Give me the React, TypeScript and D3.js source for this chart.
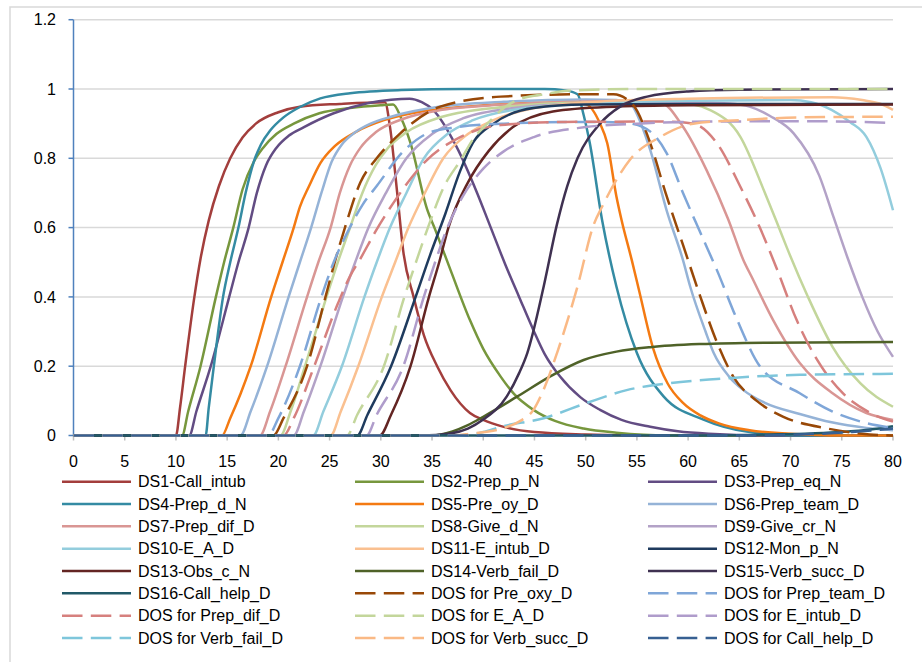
import React from 'react';
import * as d3 from 'd3';

type P = [number, number];

const ds1: P[] = [[0,0],[10,0],[10.4,0.08],[10.9,0.2],[11.8,0.4],[12.4,0.51],[13.2,0.62],[14.2,0.72],[15.3,0.8],[16.5,0.86],[17.8,0.9],[20,0.933],[22.1,0.949],[26,0.957],[30.4,0.962],[30.9,0.89],[31.6,0.7],[32.2,0.53],[33.2,0.4],[34.2,0.29],[35.5,0.2],[36.8,0.131],[38.7,0.065],[40,0.045],[42,0.025],[45,0.01],[50,0.003],[56,0],[80,0]];
const ds2: P[] = [[0,0],[10.6,0],[11.2,0.07],[12.4,0.2],[13.9,0.4],[14.7,0.5],[15.6,0.6],[16.5,0.71],[17.6,0.79],[18.5,0.83],[19.8,0.87],[21.5,0.9],[24,0.93],[27,0.945],[30,0.953],[31.2,0.955],[32,0.915],[32.9,0.844],[34.5,0.655],[35.3,0.595],[36.8,0.478],[38.7,0.333],[40,0.25],[41.7,0.17],[43,0.12],[44.9,0.074],[47,0.042],[49.8,0.02],[53,0.008],[58,0],[80,0]];
const ds3: P[] = [[0,0],[11.3,0],[12,0.07],[13.4,0.2],[15.2,0.4],[16.1,0.5],[17.1,0.6],[17.9,0.7],[18.8,0.78],[19.8,0.83],[21,0.865],[22.5,0.89],[25.4,0.93],[28.7,0.959],[31,0.969],[32.8,0.972],[34,0.962],[35.1,0.94],[37.4,0.833],[39.4,0.7],[40.6,0.61],[42.2,0.49],[43.5,0.4],[44.9,0.304],[46,0.235],[47.5,0.17],[49.5,0.11],[51.4,0.074],[53.5,0.045],[56.3,0.025],[59,0.012],[62,0.005],[68,0],[80,0]];
const ds4: P[] = [[0,0],[12.9,0],[13.2,0.08],[13.7,0.2],[14.6,0.4],[15.3,0.5],[16.1,0.6],[16.8,0.7],[17.6,0.79],[18.3,0.84],[19.2,0.88],[20.5,0.918],[22.1,0.948],[24.1,0.973],[27,0.988],[32,0.997],[38,1.0],[46,1.0],[48,0.996],[49.2,0.985],[49.8,0.925],[50.4,0.844],[51.6,0.622],[53,0.43],[55,0.238],[57.6,0.113],[61.5,0.046],[66,0.01],[71,0],[80,0]];
const ds5: P[] = [[0,0],[14.5,0],[15.3,0.05],[16.3,0.12],[17.3,0.2],[19.3,0.4],[20.4,0.5],[21.5,0.6],[22.1,0.66],[23,0.72],[24.1,0.786],[25.5,0.835],[27.5,0.875],[30.3,0.91],[33,0.93],[36,0.943],[40,0.953],[45,0.96],[48.5,0.962],[50.1,0.955],[51.4,0.9],[52.1,0.844],[53,0.69],[53.5,0.622],[54.5,0.506],[55.2,0.42],[56.6,0.25],[58,0.15],[59.5,0.094],[61.2,0.058],[63,0.035],[66,0.015],[70,0.005],[75,0],[80,0]];
const ds6: P[] = [[0,0],[16.3,0],[17.3,0.07],[18.9,0.2],[21,0.4],[22.1,0.5],[23.2,0.6],[24.2,0.7],[25.2,0.79],[26.2,0.84],[27.5,0.875],[29,0.9],[31,0.92],[36,0.95],[42,0.963],[50,0.97],[53,0.968],[54.3,0.959],[55.4,0.9],[56.3,0.824],[57.9,0.65],[59.5,0.506],[60.2,0.43],[61.7,0.3],[62.5,0.238],[64,0.17],[65.4,0.131],[67.5,0.094],[70.9,0.062],[74,0.038],[77.4,0.022],[80,0.015]];
const ds7: P[] = [[0,0],[18.2,0],[19.2,0.07],[20.7,0.2],[22.8,0.4],[23.9,0.5],[25.1,0.6],[26,0.7],[27,0.78],[28,0.83],[29.5,0.875],[32,0.912],[36,0.94],[42,0.955],[50,0.964],[55,0.967],[57.3,0.962],[59.5,0.891],[61.8,0.766],[63.9,0.625],[65.4,0.506],[66.2,0.458],[68.3,0.333],[70.9,0.209],[74.1,0.122],[77.4,0.065],[80,0.045]];
const ds8: P[] = [[0,0],[20.2,0],[21.2,0.07],[22.6,0.2],[24.7,0.4],[25.8,0.5],[27,0.6],[28.2,0.7],[29.5,0.78],[30.7,0.83],[32.5,0.875],[36,0.92],[42,0.948],[50,0.96],[58,0.961],[60.5,0.955],[62.1,0.94],[65.1,0.862],[67.5,0.7],[68.6,0.62],[69.6,0.545],[71.7,0.4],[74.1,0.256],[76.8,0.151],[80,0.083]];
const ds9: P[] = [[0,0],[21.5,0],[22.5,0.07],[24.1,0.2],[26.3,0.4],[27.5,0.5],[28.8,0.6],[30.5,0.7],[32.5,0.8],[35,0.87],[38,0.915],[43,0.945],[50,0.958],[60,0.962],[64,0.958],[66,0.949],[68,0.922],[70.3,0.872],[72.8,0.75],[74.2,0.63],[75.6,0.51],[77,0.4],[78.5,0.3],[80,0.227]];
const ds10: P[] = [[0,0],[23.4,0],[24.4,0.07],[26.2,0.2],[28.4,0.4],[29.6,0.5],[30.9,0.6],[32.5,0.7],[34.2,0.8],[36.5,0.87],[39,0.91],[43,0.94],[50,0.958],[60,0.966],[70,0.968],[72,0.962],[74,0.94],[75.8,0.905],[77.4,0.862],[78.8,0.77],[80,0.65]];
const ds11: P[] = [[0,0],[25.1,0],[26.1,0.07],[27.8,0.2],[30.1,0.4],[31.4,0.5],[32.7,0.6],[34.3,0.7],[36.1,0.8],[38.5,0.87],[41,0.91],[45,0.945],[52,0.965],[60,0.972],[74,0.976],[77,0.968],[78.7,0.958],[80,0.94]];
const ds12: P[] = [[0,0],[27.7,0],[28.7,0.06],[31,0.2],[33.4,0.4],[34.8,0.52],[36.3,0.64],[37.7,0.76],[39,0.845],[41,0.9],[44.9,0.945],[50,0.955],[60,0.957],[80,0.957]];
const ds13: P[] = [[0,0],[29.9,0],[31,0.06],[32.9,0.2],[34.7,0.4],[35.7,0.5],[36.6,0.6],[38.5,0.73],[40.5,0.82],[42.9,0.89],[46.8,0.935],[52,0.948],[60,0.953],[80,0.955]];
const ds14: P[] = [[0,0],[35,0],[37,0.012],[38.5,0.03],[40,0.054],[43.3,0.112],[46.5,0.17],[49.8,0.218],[53,0.242],[56.3,0.255],[61.2,0.264],[67.7,0.268],[80,0.27]];
const ds15: P[] = [[0,0],[34,0],[36.8,0.006],[38.5,0.02],[40,0.046],[42.3,0.113],[43.5,0.18],[44.3,0.238],[45.9,0.43],[47.2,0.61],[48.2,0.72],[49.2,0.8],[51.4,0.9],[53.4,0.95],[56,0.978],[60,0.993],[65,0.998],[80,1.0]];
const ds16: P[] = [[0,0],[62,0],[68,0.003],[72,0.006],[75,0.01],[78,0.018],[80,0.027]];
const dosPreOxy: P[] = [[0,0],[19.5,0],[20.5,0.05],[22.8,0.2],[24.6,0.4],[25.5,0.5],[26.5,0.6],[28,0.73],[29.6,0.8],[31.9,0.872],[35.8,0.949],[41.7,0.978],[50,0.985],[52.7,0.985],[54.6,0.955],[56.3,0.844],[57.8,0.7],[59.5,0.55],[61.2,0.4],[62.8,0.27],[64.4,0.17],[66.7,0.1],[69.3,0.054],[73.6,0.02],[77,0.005],[80,0]];
const dosPrepTeam: P[] = [[0,0],[19,0],[20,0.05],[22.1,0.2],[24.2,0.4],[25.4,0.5],[26.8,0.59],[28.2,0.665],[29.6,0.72],[32.2,0.82],[34.8,0.875],[37.5,0.89],[42,0.9],[50,0.905],[53.5,0.903],[55.6,0.89],[57.9,0.815],[59.5,0.7],[61.2,0.585],[62.8,0.478],[64.8,0.333],[67,0.2],[70.9,0.122],[74.1,0.069],[77.4,0.036],[80,0.022]];
const dosPrepDif: P[] = [[0,0],[20.5,0],[21.5,0.05],[23.5,0.2],[25.8,0.38],[27,0.46],[28,0.51],[29.5,0.59],[31.2,0.67],[34.5,0.795],[37.8,0.862],[41.7,0.896],[48,0.905],[58,0.906],[60.5,0.9],[62.8,0.844],[65.1,0.718],[67,0.6],[68.7,0.478],[70.6,0.333],[72.6,0.218],[75.1,0.122],[77.8,0.065],[80,0.04]];
const dosEAD: P[] = [[0,0],[26.7,0],[27.7,0.06],[30.3,0.2],[32.3,0.4],[33.5,0.506],[34.6,0.6],[36.2,0.72],[37.8,0.795],[39,0.855],[40.4,0.9],[42,0.945],[43.3,0.968],[46,0.985],[48.2,0.995],[55,1.0],[80,1.0]];
const dosEIntub: P[] = [[0,0],[28.6,0],[29.6,0.06],[32.2,0.2],[34.2,0.4],[35.3,0.5],[36.5,0.6],[38,0.69],[40,0.77],[42,0.82],[45,0.862],[50,0.89],[55,0.9],[62,0.906],[72,0.907],[80,0.902]];
const dosVerbFail: P[] = [[0,0],[38,0],[40,0.01],[41.7,0.025],[45.9,0.05],[50.1,0.094],[54,0.131],[58.2,0.151],[62.8,0.163],[67.7,0.172],[70.9,0.175],[80,0.178]];
const dosVerbSucc: P[] = [[0,0],[37,0],[38.7,0.005],[41.7,0.019],[43.5,0.04],[44.9,0.074],[46,0.14],[47.2,0.238],[49.2,0.43],[50.8,0.61],[51.6,0.66],[53.4,0.757],[54.3,0.795],[57.3,0.862],[60.5,0.9],[65,0.91],[70.9,0.918],[80,0.92]];
const dosCallHelp: P[] = [[0,0],[66,0],[72,0.004],[76,0.01],[80,0.02]];

const seriesNames = [
  'DS1-Call_intub', 'DS2-Prep_p_N', 'DS3-Prep_eq_N',
  'DS4-Prep_d_N', 'DS5-Pre_oy_D', 'DS6-Prep_team_D',
  'DS7-Prep_dif_D', 'DS8-Give_d_N', 'DS9-Give_cr_N',
  'DS10-E_A_D', 'DS11-E_intub_D', 'DS12-Mon_p_N',
  'DS13-Obs_c_N', 'DS14-Verb_fail_D', 'DS15-Verb_succ_D',
  'DS16-Call_help_D', 'DOS for Pre_oxy_D', 'DOS for Prep_team_D',
  'DOS for Prep_dif_D', 'DOS for E_A_D', 'DOS for E_intub_D',
  'DOS for Verb_fail_D', 'DOS for Verb_succ_D', 'DOS for Call_help_D',
];
const seriesColors = [
  '#A33E3C', '#77973D', '#624C83', '#348BA3', '#F47A12', '#95B3D7',
  '#D99694', '#C3D69B', '#B3A2C7', '#93CDDD', '#FAC090', '#1F3B5E',
  '#632523', '#4F6228', '#3F3151', '#215968', '#984807', '#7FA6D8',
  '#D6807E', '#C3D69B', '#AF9CCB', '#7EC6DB', '#FAB985', '#376092',
];
const seriesData = [
  ds1, ds2, ds3, ds4, ds5, ds6, ds7, ds8, ds9, ds10, ds11, ds12, ds13, ds14, ds15, ds16,
  dosPreOxy, dosPrepTeam, dosPrepDif, dosEAD, dosEIntub, dosVerbFail, dosVerbSucc, dosCallHelp,
];

const xTicks = [0, 5, 10, 15, 20, 25, 30, 35, 40, 45, 50, 55, 60, 65, 70, 75, 80];
const yTicks = [0, 0.2, 0.4, 0.6, 0.8, 1, 1.2];

const FONT = '"Liberation Sans", Arial, sans-serif';

export default function App() {
  const W = 922, H = 662;
  const x = d3.scaleLinear().domain([0, 80]).range([73.5, 893]);
  const y = d3.scaleLinear().domain([0, 1.2]).range([435.5, 19.7]);
  const line = d3.line<P>().x(d => x(d[0])).y(d => y(d[1])).curve(d3.curveMonotoneX);

  const legendCols = [62, 355, 648];
  const legendRow0 = 481.7, legendRowH = 22.33;

  return (
    <svg width={W} height={H} style={{ position: 'absolute', left: 0, top: 0 }} fontFamily={FONT}>
      <rect x={0} y={0} width={W} height={H} fill="#fff" />
      <rect x={10} y={7} width={940} height={700} fill="none" stroke="#D9D9D9" strokeWidth={1.5} />
      {yTicks.filter(t => t > 0).map(t => (
        <line key={'g' + t} x1={x(0)} x2={x(80)} y1={y(t)} y2={y(t)} stroke="#D9D9D9" strokeWidth={1.5} />
      ))}
      {xTicks.map(t => (
        <line key={'xt' + t} x1={x(t)} x2={x(t)} y1={y(0)} y2={y(0) + 5} stroke="#BFBFBF" strokeWidth={1.5} />
      ))}
      <line x1={x(0)} x2={x(80)} y1={y(0)} y2={y(0)} stroke="#BFBFBF" strokeWidth={1.5} />
      {xTicks.map(t => (
        <text key={'xl' + t} x={x(t)} y={467} textAnchor="middle" fontSize={16} fill="#000">{t}</text>
      ))}
      {yTicks.map(t => (
        <text key={'yl' + t} x={56} y={y(t) + 5.7} textAnchor="end" fontSize={16} fill="#000">{String(t)}</text>
      ))}
      {yTicks.map(t => (
        <line key={'yt' + t} x1={x(0) - 5} x2={x(0)} y1={y(t)} y2={y(t)} stroke="#4F81BD" strokeWidth={1.5} />
      ))}
      <line x1={x(0)} x2={x(0)} y1={y(1.2)} y2={y(0)} stroke="#4F81BD" strokeWidth={1.5} />
      {seriesData.map((d, i) => (
        <path key={'s' + i} d={line(d) || ''} fill="none" stroke={seriesColors[i]} strokeWidth={2.5}
          strokeLinejoin="round" strokeDasharray={seriesNames[i].startsWith('DOS') ? '20.5 8.3' : undefined} />
      ))}
      {seriesNames.map((n, i) => {
        const col = i % 3, row = Math.floor(i / 3);
        const lx = legendCols[col];
        const ly = legendRow0 + row * legendRowH;
        return (
          <g key={'lg' + i}>
            <line x1={lx} x2={lx + 69} y1={ly} y2={ly} stroke={seriesColors[i]} strokeWidth={2.5}
              strokeDasharray={n.startsWith('DOS') ? '20.5 8.3' : undefined} />
            <text x={lx + 76} y={ly + 5.7} fontSize={16} fill="#000">{n}</text>
          </g>
        );
      })}
    </svg>
  );
}
